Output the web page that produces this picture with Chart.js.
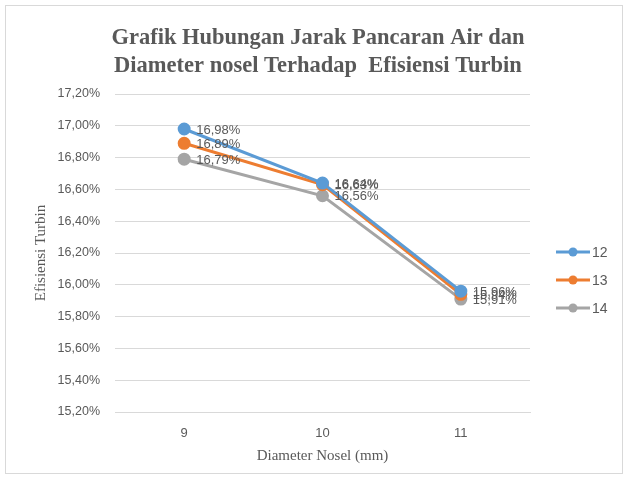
<!DOCTYPE html>
<html><head><meta charset="utf-8">
<script src="https://cdn.jsdelivr.net/npm/chart.js@4/dist/chart.umd.min.js"></script>
<style>
html,body{margin:0;padding:0;background:#fff;}
#wrap{position:absolute;left:0;top:0;width:628px;height:477px;}
#frame{position:absolute;left:5px;top:5px;width:616px;height:467px;border:1px solid #d9d9d9;pointer-events:none;}
</style></head>
<body>
<div id="wrap"><canvas id="c" width="628" height="477"></canvas><div id="frame"></div></div>
<script>
const categories = ['9', '10', '11'];
const seriesNames = ['12', '13', '14'];
const s12 = [16.98, 16.64, 15.96];
const s13 = [16.89, 16.63, 15.94];
const s14 = [16.79, 16.56, 15.91];
const colors = ['#5b9bd5', '#ed7d31', '#a5a5a5'];
const titleLines = ['Grafik Hubungan Jarak Pancaran Air dan', 'Diameter nosel Terhadap  Efisiensi Turbin'];

const fmt = v => v.toFixed(2).replace('.', ',') + '%';

const labelPlugin = {
  id: 'pointLabels',
  afterDatasetsDraw(chart) {
    const ctx = chart.ctx;
    ctx.save();
    ctx.font = '13px "Liberation Sans", Arial, sans-serif';
    ctx.fillStyle = '#595959';
    ctx.textAlign = 'left';
    ctx.textBaseline = 'middle';
    chart.data.datasets.forEach((ds, i) => {
      const meta = chart.getDatasetMeta(i);
      meta.data.forEach((pt, j) => {
        ctx.fillText(fmt(ds.data[j]), pt.x + 12, pt.y + 1);
      });
    });
    ctx.restore();
  }
};

const titlePlugin = {
  id: 'customTitle',
  afterDraw(chart) {
    const ctx = chart.ctx;
    ctx.save();
    ctx.font = 'bold 22.5px "Liberation Serif", "Times New Roman", serif';
    ctx.fillStyle = '#595959';
    ctx.textAlign = 'center';
    ctx.textBaseline = 'middle';
    titleLines.forEach((t, i) => ctx.fillText(t, 318, 38 + i * 28));
    ctx.restore();
  }
};

const legendPlugin = {
  id: 'customLegend',
  afterDraw(chart) {
    const ctx = chart.ctx;
    ctx.save();
    ctx.font = '14px "Liberation Sans", Arial, sans-serif';
    ctx.textBaseline = 'middle';
    chart.data.datasets.forEach((ds, i) => {
      const y = 252 + i * 28;
      ctx.strokeStyle = ds.borderColor;
      ctx.lineWidth = 3;
      ctx.beginPath(); ctx.moveTo(556, y); ctx.lineTo(590, y); ctx.stroke();
      ctx.fillStyle = ds.borderColor;
      ctx.beginPath(); ctx.arc(573, y, 4.5, 0, Math.PI * 2); ctx.fill();
      ctx.fillStyle = '#595959';
      ctx.fillText(ds.label, 592, y + 1);
    });
    ctx.restore();
  }
};

const mk = (name, data, col) => ({
  label: name, data: data, borderColor: col, backgroundColor: col,
  borderWidth: 3, pointRadius: 5, pointHoverRadius: 5, tension: 0
});

new Chart(document.getElementById('c'), {
  type: 'line',
  data: {
    labels: categories,
    datasets: [mk(seriesNames[0], s12, colors[0]), mk(seriesNames[1], s13, colors[1]), mk(seriesNames[2], s14, colors[2])]
  },
  options: {
    responsive: false, animation: false, devicePixelRatio: 1,
    layout: { padding: { left: 32, right: 98, top: 94, bottom: 12 } },
    plugins: {
      legend: { display: false },
      tooltip: { enabled: false },
      title: { display: false }
    },
    scales: {
      x: {
        offset: true,
        afterFit: s => { s.height = 53; },
        grid: { display: false, drawTicks: false },
        border: { display: true, color: '#d9d9d9', width: 1 },
        ticks: { color: '#595959', font: { family: '"Liberation Sans", Arial, sans-serif', size: 13 }, padding: 14 },
        title: { display: true, text: 'Diameter Nosel (mm)', color: '#595959',
          font: { family: '"Liberation Serif", "Times New Roman", serif', size: 15 }, padding: { top: 0, bottom: 0 } }
      },
      y: {
        min: 15.2, max: 17.2,
        afterFit: s => { s.width = 83; },
        grid: { color: '#d9d9d9', drawTicks: false },
        border: { display: false },
        ticks: { stepSize: 0.2, color: '#595959', padding: 15,
          font: { family: '"Liberation Sans", Arial, sans-serif', size: 12.5 },
          callback: v => fmt(v) },
        title: { display: true, text: 'Efisiensi Turbin', color: '#595959',
          font: { family: '"Liberation Serif", "Times New Roman", serif', size: 15 }, padding: { top: 0, bottom: 0 } }
      }
    }
  },
  plugins: [labelPlugin, titlePlugin, legendPlugin]
});
</script>
</body></html>
